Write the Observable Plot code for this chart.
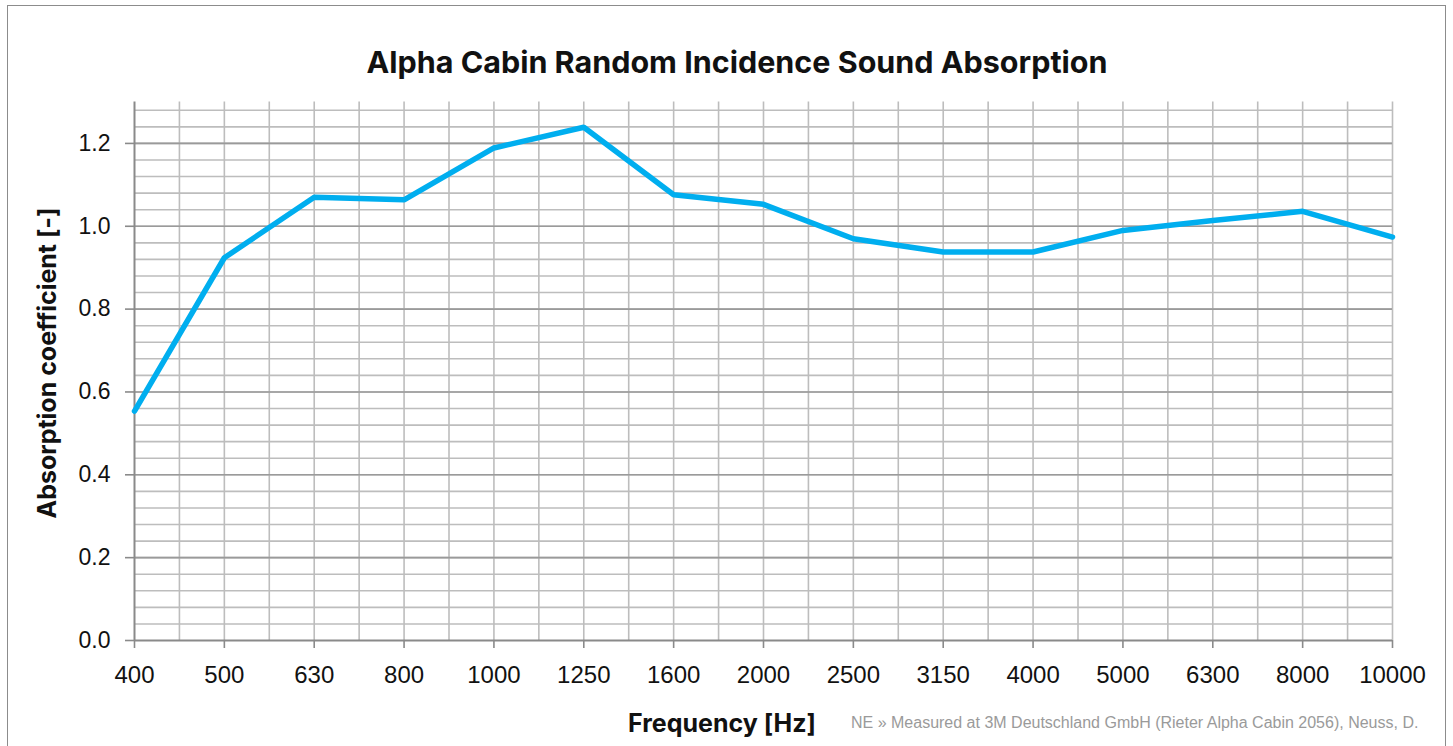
<!DOCTYPE html>
<html>
<head>
<meta charset="utf-8">
<script src="https://cdn.jsdelivr.net/npm/d3@7"></script>
<script src="https://cdn.jsdelivr.net/npm/@observablehq/plot@0.6"></script>
<style>
  html, body { margin: 0; padding: 0; background: #fff; }
  #wrap { position: relative; width: 1453px; height: 746px; overflow: hidden; background: #fff; }
  #frame { position: absolute; left: 7px; top: 5px; width: 1439px; height: 800px; border: 1.5px solid #8c8c8c; box-sizing: border-box; }
  #chart { position: absolute; left: 0; top: 0; }
  #overlay { position: absolute; left: 0; top: 0; pointer-events: none; }
</style>
</head>
<body>
<div id="wrap">
  <div id="frame"></div>
  <div id="chart"></div>
  <svg id="overlay" width="1453" height="746"></svg>
</div>
<script>
// ---- data ----
const categories = ["400", "500", "630", "800", "1000", "1250", "1600", "2000", "2500", "3150", "4000", "5000", "6300", "8000", "10000"];
const absorption = [0.554, 0.924, 1.070, 1.064, 1.189, 1.239, 1.076, 1.053, 0.970, 0.938, 0.938, 0.990, 1.014, 1.036, 0.974];
const yTicks = [0, 0.2, 0.4, 0.6, 0.8, 1.0, 1.2];
const yMax = 1.3;
const minorStep = 0.04;

const titleText = "Alpha Cabin Random Incidence Sound Absorption";
const xLabel = "Frequency [Hz]";
const yLabel = "Absorption coefficient [-]";
const caption = "NE » Measured at 3M Deutschland GmbH (Rieter Alpha Cabin 2056), Neuss, D.";

const data = categories.map((f, i) => ({i, f, a: absorption[i]}));
const n = categories.length;
const minorY = d3.range(1, Math.floor(yMax / minorStep + 1e-9) + 1).map(k => +(k * minorStep).toFixed(4));
const majorY = yTicks.filter(v => v > 0);
const xGrid = d3.range(1, 2 * (n - 1) + 1).map(k => k / 2);

const tickFont = "'Liberation Sans', Arial, Helvetica, sans-serif";

const chart = Plot.plot({
  width: 1453,
  height: 746,
  marginLeft: 134,
  marginRight: 61,
  marginTop: 101.5,
  marginBottom: 106,
  style: {fontFamily: tickFont, background: "transparent", overflow: "visible"},
  x: {type: "linear", domain: [0, n - 1]},
  y: {domain: [0, yMax]},
  marks: [
    Plot.ruleY(minorY, {stroke: "#bdbdbd", strokeWidth: 1.6}),
    Plot.ruleX(xGrid, {y1: 0, y2: yMax, stroke: "#bdbdbd", strokeWidth: 1.6}),
    Plot.ruleY(majorY, {stroke: "#9a9a9a", strokeWidth: 1.6}),
    Plot.axisY({ticks: yTicks, tickFormat: d3.format(".1f"), tickSize: 9, tickPadding: 15, stroke: "#8a8a8a", strokeWidth: 1.6, fill: "#111", fontSize: 23, label: null}),
    Plot.axisX({ticks: d3.range(n), tickFormat: i => categories[i], tickSize: 8, tickPadding: 17, stroke: "#8a8a8a", strokeWidth: 1.6, fill: "#111", fontSize: 24, label: null}),
    Plot.ruleX([0], {y1: 0, y2: yMax, stroke: "#8a8a8a", strokeWidth: 2}),
    Plot.ruleY([0], {stroke: "#8a8a8a", strokeWidth: 2}),
    Plot.line(data, {x: "i", y: "a", stroke: "#00aeef", strokeWidth: 5.5, strokeLinejoin: "miter"})
  ]
});
document.getElementById("chart").appendChild(chart);

// ---- texts ----
const ov = d3.select("#overlay");
ov.append("text").attr("x", 737).attr("y", 73).attr("text-anchor", "middle")
  .attr("font-family", "Inter, 'Liberation Sans', sans-serif").attr("font-weight", 700).attr("font-size", 30.5)
  .attr("fill", "#111").text(titleText);
ov.append("text").attr("x", 722).attr("y", 732).attr("text-anchor", "middle")
  .attr("font-family", "Inter, 'Liberation Sans', sans-serif").attr("font-weight", 700).attr("font-size", 25)
  .attr("fill", "#111").text(xLabel);
ov.append("text").attr("transform", "translate(56,363) rotate(-90)").attr("text-anchor", "middle")
  .attr("font-family", "Inter, 'Liberation Sans', sans-serif").attr("font-weight", 700).attr("font-size", 25)
  .attr("fill", "#111").text(yLabel);
ov.append("text").attr("x", 851).attr("y", 728).attr("text-anchor", "start")
  .attr("font-family", "'Liberation Sans', Arial, sans-serif").attr("font-size", 16)
  .attr("fill", "#9a9a9a").text(caption);
</script>
</body>
</html>
